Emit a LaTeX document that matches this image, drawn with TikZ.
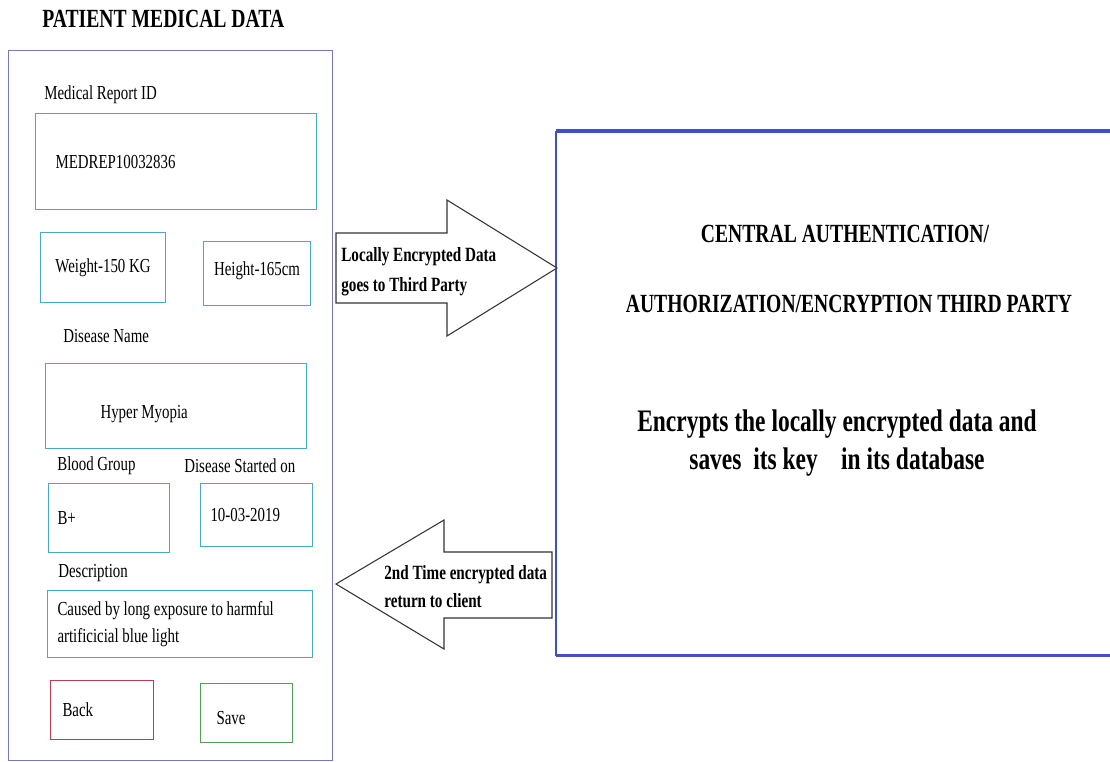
\documentclass[tikz,border=0pt]{standalone}
\usepackage{fontspec}
\setmainfont{Liberation Serif}[FakeStretch=0.75]
\usepackage{xcolor}
\usepackage{tikz}
\usetikzlibrary{positioning, calc}

\definecolor{panelcol}{RGB}{120,120,190}
\definecolor{fieldcol}{RGB}{70,170,200}
\definecolor{backcol}{RGB}{190,60,80}
\definecolor{savecol}{RGB}{80,160,90}
\definecolor{tpcol}{RGB}{64,80,192}

\begin{document}
\begin{tikzpicture}[x=0.2mm,y=-0.2mm,
 every node/.style={font=\fontsize{11.3}{15.3}\selectfont},
 lbl/.style={anchor=west,inner sep=0pt},
 field/.style={rectangle,draw=fieldcol,line width=0.6pt,anchor=north west,align=flush left,inner ysep=0pt},
 btn/.style={field,inner xsep=2.4mm},
 bold/.style 2 args={font=\bfseries\fontsize{#1}{#2}\selectfont,inner sep=0pt},
 blockarr/.style={draw=black!80,line width=0.6pt,fill=white}]
\useasboundingbox (0,0) rectangle (1110,761);
% title
\node[bold={14.9}{18},anchor=west] (title) at (42,19) {PATIENT MEDICAL DATA};
% form panel
\node[rectangle,draw=panelcol,line width=0.6pt,anchor=north west,minimum width=64.8mm,minimum height=142mm] (panel) at (8,50) {};
\node[lbl] (ridlbl) at (44,95) {Medical Report ID};
\node[field,minimum width=56.2mm,minimum height=19.2mm,inner xsep=4mm,text width=48.2mm] (rid) at (35,113) {MEDREP10032836};
\node[field,minimum width=25mm,minimum height=14mm,align=flush center] (weight) at (40,232) {Weight-150 KG};
\node[field,minimum width=21.4mm,minimum height=12.8mm,align=flush center] (height) at (203,241) {Height-165cm\\[-9.6pt]};
\node[lbl] (dislbl) at (63,336) {Disease Name};
\node[field,minimum width=52.2mm,minimum height=17mm,inner xsep=11mm,text width=30.2mm] (disease) at (45,363) {\\[1.7pt]Hyper Myopia};
\node[lbl] (bglbl) at (57,466) {Blood Group};
\node[lbl] (dslbl) at (184,466) {Disease Started on};
\node[field,minimum width=24.2mm,minimum height=13.8mm,inner xsep=1.8mm,text width=20.6mm] (blood) at (48,483) {B+};
\node[field,minimum width=22.4mm,minimum height=12.6mm,inner xsep=2mm,text width=18.4mm] (started) at (200,483) {10-03-2019};
\node[lbl] (desclbl) at (58,573) {Description};
\node[field,minimum width=53mm,minimum height=13.4mm,inner xsep=2mm,text width=49mm] (desc) at (47,590) {Caused by long exposure to harmful\\artificicial blue light\\[-1mm]};
\node[btn,draw=backcol,minimum width=20.6mm,minimum height=11.8mm,text width=15.8mm] (back) at (50,680) {Back};
\node[btn,draw=savecol,minimum width=18.4mm,minimum height=11.8mm,inner xsep=3.2mm,text width=12mm] (save) at (200,683) {\\[-1.7pt]Save};
% third party box
\node[rectangle,anchor=north west,minimum width=111mm,minimum height=104.8mm] (tp) at (556,131) {};
\draw[tpcol,line width=0.6pt] (tp.north west) -- (tp.south west);
\draw[tpcol,line width=1.8pt] (tp.north west) -- (tp.north east);
\draw[tpcol,line width=1.8pt] (tp.south west) -- (tp.south east);
\node[bold={14.9}{18}] (central) at (845,234) {CENTRAL AUTHENTICATION/};
\node[bold={14.9}{18}] (auth) at (849,304) {AUTHORIZATION/ENCRYPTION THIRD PARTY};
\node[bold={17.8}{22},align=center] (encr) at (837,443) {Encrypts the locally encrypted data and\\saves\ \ its key\ \ \ \ in its database};
% block arrows
\draw[blockarr] (336,233) -- (447,233) -- (447,200) -- (557,268) -- (447,336) -- (447,303) -- (336,303) -- cycle;
\node[bold={11.5}{17},anchor=west,align=left] (sendtxt) at (341,272) {Locally Encrypted Data\\goes to Third Party};
\draw[blockarr] (552,552) -- (444,552) -- (444,520) -- (336,584) -- (444,649) -- (444,618) -- (552,618) -- cycle;
\node[bold={11.5}{16},anchor=west,align=left] (backtxt) at (384,587) {2nd Time encrypted data\\return to client};
\end{tikzpicture}
\end{document}
